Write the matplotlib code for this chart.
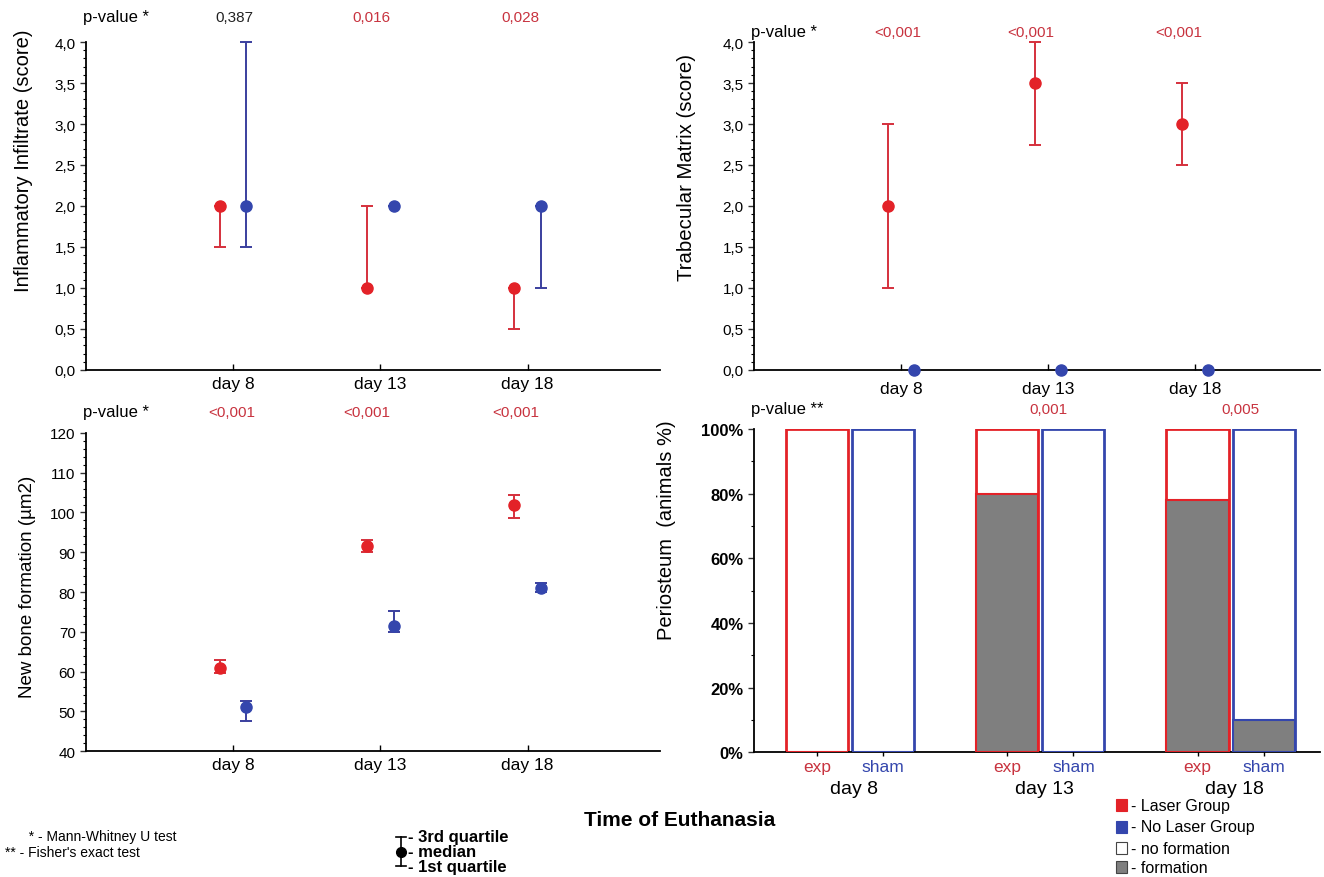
import matplotlib
matplotlib.use("Agg")
import matplotlib.pyplot as plt
from matplotlib.ticker import AutoMinorLocator, FuncFormatter, MultipleLocator
from matplotlib.patches import Rectangle
from matplotlib.lines import Line2D
import numpy as np

plt.rcParams['font.family'] = ['Liberation Sans', 'DejaVu Sans']

days = ["day 8", "day 13", "day 18"]

# Inflammatory infiltrate (score): median, 1st and 3rd quartile
infl_laser_med = [2.0, 1.0, 1.0]
infl_laser_q1 = [1.5, 1.0, 0.5]
infl_laser_q3 = [2.0, 2.0, 1.0]
infl_sham_med = [2.0, 2.0, 2.0]
infl_sham_q1 = [1.5, 2.0, 1.0]
infl_sham_q3 = [4.0, 2.0, 2.0]
infl_p = ["0,387", "0,016", "0,028"]

# Trabecular matrix (score)
trab_laser_med = [2.0, 3.5, 3.0]
trab_laser_q1 = [1.0, 2.75, 2.5]
trab_laser_q3 = [3.0, 4.0, 3.5]
trab_sham_med = [0.0, 0.0, 0.0]
trab_sham_q1 = [0.0, 0.0, 0.0]
trab_sham_q3 = [0.0, 0.0, 0.0]
trab_p = ["<0,001", "<0,001", "<0,001"]

# New bone formation (um2)
bone_laser_med = [61.0, 91.5, 102.0]
bone_laser_q1 = [59.5, 90.0, 98.5]
bone_laser_q3 = [63.0, 93.0, 104.5]
bone_sham_med = [51.0, 71.5, 81.0]
bone_sham_q1 = [47.5, 70.0, 80.0]
bone_sham_q3 = [52.5, 75.3, 82.2]
bone_p = ["<0,001", "<0,001", "<0,001"]

# Periosteum (% animals with formation)
peri_exp = [0, 80, 78]
peri_sham = [0, 0, 10]
peri_p = ["", "0,001", "0,005"]

RED = "#e32228"
BLUE = "#3446ad"
RED_EB = "#d5303c"
BLUE_EB = "#3a3f9e"
PRED = "#c8333f"

comma = FuncFormatter(lambda v, p: ("%.1f" % v).replace(".", ","))

fig = plt.figure(figsize=(13.24, 8.78), dpi=100)


def style_axes(ax):
    for s in ["top", "right"]:
        ax.spines[s].set_visible(False)
    ax.spines["left"].set_linewidth(1.3)
    ax.spines["bottom"].set_linewidth(1.3)
    ax.yaxis.set_minor_locator(AutoMinorLocator(5))
    ax.tick_params(axis="y", which="major", length=4, width=1, labelsize=11, color="#333333")
    ax.tick_params(axis="y", which="minor", length=2, width=0.8)
    ax.tick_params(axis="x", which="major", direction="in", length=4, width=1, labelsize=12.5, pad=4)


def quart_plot(ax, xs, med, q1, q3, color, ecolor):
    med = np.array(med)
    yerr = [med - np.array(q1), np.array(q3) - med]
    ax.errorbar(xs, med, yerr=yerr, fmt="o", color=color, ecolor=ecolor,
                markersize=8, capsize=4.5, elinewidth=1.4, capthick=1.4, zorder=3, clip_on=False)


def pvals(ax, label, xs, vals, colors, y):
    ax.text(-0.005, y, label, transform=ax.transAxes, fontsize=12, ha="left", va="bottom")
    tr = ax.get_xaxis_transform()
    for x, v, c in zip(xs, vals, colors):
        ax.text(x, y, v, transform=tr, fontsize=11, color=c, ha="center", va="bottom")


pos = np.array([1, 2, 3])
off_r = -0.09
off_b = 0.09

# top-left
ax1 = fig.add_axes([0.065, 0.5775, 0.4335, 0.3735])
quart_plot(ax1, pos + off_r, infl_laser_med, infl_laser_q1, infl_laser_q3, RED, RED_EB)
quart_plot(ax1, pos + off_b, infl_sham_med, infl_sham_q1, infl_sham_q3, BLUE, BLUE_EB)
ax1.set_ylim(0, 4)
ax1.set_xlim(0, 3.9)
ax1.yaxis.set_major_locator(MultipleLocator(0.5))
ax1.yaxis.set_major_formatter(comma)
ax1.set_xticks(pos)
ax1.set_xticklabels(days)
style_axes(ax1)
ax1.set_ylabel("Inflammatory Infiltrate (score)", fontsize=14.5)
ax1.yaxis.set_label_coords(-0.092, 0.64)
pvals(ax1, "p-value *", pos + np.array([0.01, -0.06, -0.05]), infl_p, ["#222222", PRED, PRED], 1.055)

# top-right
ax2 = fig.add_axes([0.5695, 0.5775, 0.4275, 0.3735])
quart_plot(ax2, pos + off_r, trab_laser_med, trab_laser_q1, trab_laser_q3, RED, RED_EB)
quart_plot(ax2, pos + off_b, trab_sham_med, trab_sham_q1, trab_sham_q3, BLUE, BLUE_EB)
ax2.set_ylim(0, 4)
ax2.set_xlim(0, 3.85)
ax2.yaxis.set_major_locator(MultipleLocator(0.5))
ax2.yaxis.set_major_formatter(comma)
ax2.set_xticks(pos)
ax2.set_xticklabels(days)
style_axes(ax2)
ax2.tick_params(axis="x", pad=8)
ax2.set_ylabel("Trabecular Matrix (score)", fontsize=14.7)
ax2.yaxis.set_label_coords(-0.102, 0.62)
pvals(ax2, "p-value *", pos + np.array([-0.02, -0.12, -0.11]), trab_p, [PRED] * 3, 1.01)

# bottom-left
ax3 = fig.add_axes([0.065, 0.1435, 0.4335, 0.3622])
quart_plot(ax3, pos + off_r, bone_laser_med, bone_laser_q1, bone_laser_q3, RED, RED_EB)
quart_plot(ax3, pos + off_b, bone_sham_med, bone_sham_q1, bone_sham_q3, BLUE, BLUE_EB)
ax3.set_ylim(40, 120)
ax3.set_xlim(0, 3.9)
ax3.yaxis.set_major_locator(MultipleLocator(10))
ax3.set_xticks(pos)
ax3.set_xticklabels(days)
style_axes(ax3)
ax3.set_ylabel("New bone formation (µm2)", fontsize=13.5)
ax3.yaxis.set_label_coords(-0.087, 0.52)
pvals(ax3, "p-value *", pos + np.array([-0.01, -0.09, -0.08]), bone_p, [PRED] * 3, 1.045)

# bottom-right
ax4 = fig.add_axes([0.5695, 0.142, 0.4275, 0.3683])
bw = 0.326
xe = pos - 0.174
xs = pos + 0.174
ax4.bar(xe, [100] * 3, width=bw, facecolor="white", edgecolor=RED, linewidth=2, zorder=2)
ax4.bar(xs, [100] * 3, width=bw, facecolor="white", edgecolor=BLUE, linewidth=2, zorder=2)
ax4.bar(xe, peri_exp, width=bw, facecolor="#7f7f7f", edgecolor=RED, linewidth=1.5, zorder=3)
ax4.bar(xs, peri_sham, width=bw, facecolor="#7f7f7f", edgecolor=BLUE, linewidth=1.5, zorder=3)
ax4.set_ylim(0, 100)
ax4.set_xlim(0.495, 3.47)
ax4.yaxis.set_major_locator(MultipleLocator(20))
ax4.yaxis.set_major_formatter(FuncFormatter(lambda v, p: "%d%%" % v))
ax4.set_xticks(np.concatenate([xe, xs]))
ax4.set_xticklabels(["exp"] * 3 + ["sham"] * 3)
style_axes(ax4)
ax4.yaxis.set_minor_locator(AutoMinorLocator(2))
for lab in ax4.get_yticklabels():
    lab.set_fontweight("bold")
    lab.set_fontsize(12)
for i, lab in enumerate(ax4.get_xticklabels()):
    lab.set_color(PRED if i < 3 else BLUE)
    lab.set_fontsize(12.5)
ax4.tick_params(axis="x", direction="inout", length=6, pad=2)
for x, d in zip(pos, days):
    ax4.text(x + 0.02, -0.085, d, transform=ax4.get_xaxis_transform(), ha="center", va="top", fontsize=14)
ax4.set_ylabel("Periosteum  (animals %)", fontsize=14.5)
ax4.yaxis.set_label_coords(-0.138, 0.69)
pvals(ax4, "p-value **", pos + np.array([0.0, 0.04, 0.05]), peri_p, [PRED] * 3, 1.04)

# footer
fig.text(0.513, 0.066, "Time of Euthanasia", ha="center", va="center", fontsize=15, fontweight="bold")
fig.text(0.016, 0.047, "  * - Mann-Whitney U test", fontsize=10, va="center")
fig.text(0.004, 0.029, "** - Fisher's exact test", fontsize=10, va="center")

# quartile key
kx = 0.303
fig.add_artist(Line2D([kx, kx], [0.012, 0.046], color="black", lw=1.2))
fig.add_artist(Line2D([kx - 0.004, kx + 0.004], [0.046, 0.046], color="black", lw=1.2))
fig.add_artist(Line2D([kx - 0.004, kx + 0.004], [0.012, 0.012], color="black", lw=1.2))
fig.add_artist(Line2D([kx], [0.029], marker="o", color="black", markersize=7))
fig.text(kx + 0.005, 0.046, "- 3rd quartile", fontsize=12, fontweight="bold", va="center")
fig.text(kx + 0.005, 0.029, "- median", fontsize=12, fontweight="bold", va="center")
fig.text(kx + 0.005, 0.012, "- 1st quartile", fontsize=12, fontweight="bold", va="center")

# group key
lx = 0.843
keys = [(RED, RED, "- Laser Group", 0.082),
        (BLUE, BLUE, "- No Laser Group", 0.057),
        ("white", "#444444", "- no formation", 0.033),
        ("#7f7f7f", "#444444", "- formation", 0.011)]
for fc, ec, txt, y in keys:
    fig.add_artist(Rectangle((lx, y - 0.007), 0.0085, 0.014, facecolor=fc, edgecolor=ec, lw=0.8,
                             transform=fig.transFigure))
    fig.text(lx + 0.011, y, txt, fontsize=11.5, va="center")

fig.savefig("out.png", dpi=100)
